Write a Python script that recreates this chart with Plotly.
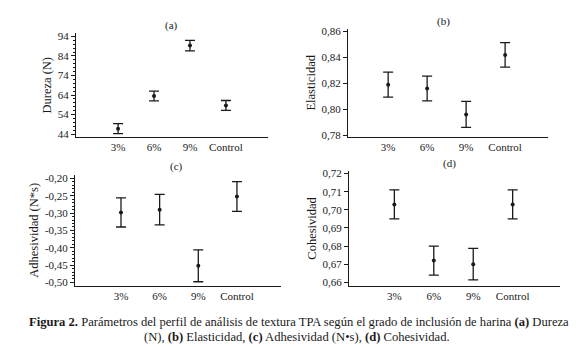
import plotly.graph_objects as go

categories = ["3%", "6%", "9%", "Control"]

dureza = [46.8, 63.5, 89.3, 58.7]
dureza_err = [2.6, 2.5, 2.7, 2.5]
dureza_ticks = [44, 54, 64, 74, 84, 94]
dureza_ticklabels = ["44", "54", "64", "74", "84", "94"]

elasticidad = [0.819, 0.816, 0.796, 0.842]
elasticidad_err = [0.0097, 0.0096, 0.0101, 0.0095]
elasticidad_ticks = [0.78, 0.80, 0.82, 0.84, 0.86]
elasticidad_ticklabels = ["0,78", "0,80", "0,82", "0,84", "0,86"]

adhesividad = [-0.298, -0.290, -0.452, -0.252]
adhesividad_err = [0.042, 0.044, 0.046, 0.043]
adhesividad_ticks = [-0.50, -0.45, -0.40, -0.35, -0.30, -0.25, -0.20]
adhesividad_ticklabels = ["-0,50", "-0,45", "-0,40", "-0,35", "-0,30", "-0,25", "-0,20"]

cohesividad = [0.703, 0.672, 0.670, 0.703]
cohesividad_err = [0.008, 0.008, 0.0087, 0.008]
cohesividad_ticks = [0.66, 0.67, 0.68, 0.69, 0.70, 0.71, 0.72]
cohesividad_ticklabels = ["0,66", "0,67", "0,68", "0,69", "0,70", "0,71", "0,72"]

W, H = 580, 347
FONT = "'Liberation Serif', 'DejaVu Serif', 'Times New Roman', serif"
INK = "#1a1a1a"


def fx(px):
    return px / W


def fy(py):
    return 1 - py / H


panels = [
    # values, errors, ticks, ticklabels, title, ylabel, x-pixels, y-pixels, xrange, yrange, minor dtick, standoff, title pos
    (dureza, dureza_err, dureza_ticks, dureza_ticklabels, "(a)", "Dureza (N)",
     (68, 260), (22, 128), [-1.17, 4.17], [42.5, 95.5], 2, 3, (163, 14)),
    (elasticidad, elasticidad_err, elasticidad_ticks, elasticidad_ticklabels, "(b)", "Elasticidad",
     (340, 540), (17, 128), [-1.03, 4.10], [0.7785, 0.8623], None, 3, (435, 10)),
    (adhesividad, adhesividad_err, adhesividad_ticks, adhesividad_ticklabels, "(c)", "Adhesividad (N*s)",
     (67, 273), (167, 280), [-1.19, 4.14], [-0.509, -0.1904], 0.01, 3, (168, 158)),
    (cohesividad, cohesividad_err, cohesividad_ticks, cohesividad_ticklabels, "(d)", "Cohesividad",
     (341, 552), (163, 280), [-1.15, 4.20], [0.6582, 0.7213], None, 3, (441, 155)),
]

fig = go.Figure()
annotations = []
for i, (vals, errs, ticks, tlabels, title, ylabel, xpx, ypx, xr, yr, minor, standoff, tpos) in enumerate(panels, start=1):
    xa = "x" if i == 1 else f"x{i}"
    ya = "y" if i == 1 else f"y{i}"
    fig.add_trace(go.Scatter(
        x=categories, y=vals, xaxis=xa, yaxis=ya, mode="markers",
        marker=dict(color=INK, size=4),
        error_y=dict(type="data", array=errs, visible=True, color=INK, thickness=1.3, width=5),
        showlegend=False, hoverinfo="skip",
    ))
    xkey = "xaxis" if i == 1 else f"xaxis{i}"
    ykey = "yaxis" if i == 1 else f"yaxis{i}"
    xaxis = dict(
        domain=[fx(xpx[0]), fx(xpx[1])], anchor=ya, type="category",
        range=xr, showline=True, linecolor=INK, linewidth=1, ticks="",
        showgrid=False, zeroline=False, fixedrange=True,
        tickfont=dict(family=FONT, size=11, color=INK),
    )
    yaxis = dict(
        domain=[fy(ypx[1]), fy(ypx[0])], anchor=xa, range=yr,
        showline=True, linecolor=INK, linewidth=1, ticks="outside", ticklen=4,
        tickcolor=INK, tickwidth=1, showgrid=False, zeroline=False,
        tickmode="array", tickvals=ticks, ticktext=tlabels,
        tickfont=dict(family=FONT, size=11, color=INK),
        title=dict(text=ylabel, font=dict(family=FONT, size=12.5, color=INK), standoff=standoff),
        fixedrange=True,
    )
    if minor is not None:
        yaxis["minor"] = dict(tick0=ticks[0], dtick=minor, ticks="outside", ticklen=2,
                              tickcolor=INK, tickwidth=1, showgrid=False)
    fig.layout[xkey] = xaxis
    fig.layout[ykey] = yaxis
    annotations.append(dict(
        text=title, xref="paper", yref="paper", x=fx(tpos[0]), y=fy(tpos[1]),
        xanchor="center", yanchor="middle", showarrow=False,
        font=dict(family=FONT, size=11, color=INK),
    ))

caption1 = ("<b>Figura 2.</b> Parámetros del perfil de análisis de textura TPA según el grado "
            "de inclusión de harina <b>(a)</b> Dureza")
caption2 = "(N), <b>(b)</b> Elasticidad, <b>(c)</b> Adhesividad (N•s), <b>(d)</b> Cohesividad."
annotations.append(dict(text=caption1, xref="paper", yref="paper", x=fx(291), y=fy(317),
                        xanchor="center", yanchor="middle", showarrow=False,
                        font=dict(family=FONT, size=12.6, color=INK)))
annotations.append(dict(text=caption2, xref="paper", yref="paper", x=fx(289), y=fy(333),
                        xanchor="center", yanchor="middle", showarrow=False,
                        font=dict(family=FONT, size=12.6, color=INK)))

fig.update_layout(
    width=W, height=H, margin=dict(l=0, r=0, t=0, b=0),
    paper_bgcolor="white", plot_bgcolor="white",
    annotations=annotations,
    font=dict(family=FONT, color=INK),
)

fig.write_html("out.html", config={"displayModeBar": False})
